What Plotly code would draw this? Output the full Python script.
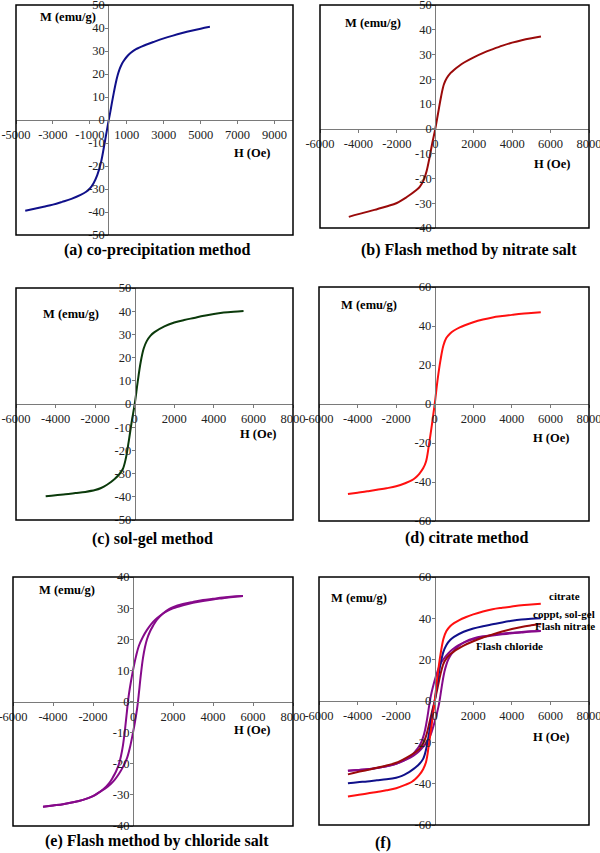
import plotly.graph_objects as go

# ---------------- data ----------------
a_H = [-4500, -4000, -3500, -3000, -2500, -2000, -1500, -1200, -1000, -800, -600, -400, -200, 0,
       100, 200, 300, 400, 500, 600, 700, 800, 1000, 1200, 1500, 2000, 2500, 3000, 3500, 4000, 4500, 5000, 5500]
a_M = [-39.5, -38.6, -37.7, -36.8, -35.6, -34.3, -32.6, -31.2, -29.8, -27.5, -24, -18.5, -10, -1,
       3.2, 7.8, 12, 16, 19.3, 21.9, 23.8, 25.3, 27.5, 29.1, 30.8, 32.6, 34.1, 35.5, 36.7, 37.8, 38.8, 39.7, 40.5]

b_H = [-4500, -4000, -3500, -3000, -2500, -2000, -1500, -1000, -800, -600, -450, -300, -150, 0,
       150, 300, 450, 600, 800, 1000, 1200, 1500, 2000, 2500, 3000, 3500, 4000, 4500, 5000, 5500]
b_M = [-35.5, -34.4, -33.4, -32.3, -31.2, -29.9, -27.6, -24.8, -23.3, -20.6, -17, -11.6, -5.5, 0,
       6.5, 13, 18, 20.5, 22.6, 24, 25.2, 26.8, 28.9, 30.7, 32.2, 33.6, 34.8, 35.8, 36.6, 37.3]

c_H = [-4500, -4000, -3500, -3000, -2500, -2000, -1700, -1400, -1200, -1000, -800, -600, -450, -300, -150, 0,
       150, 300, 450, 600, 800, 1000, 1500, 2000, 2500, 3000, 3500, 4000, 4500, 5000, 5500]
c_M = [-39.8, -39.3, -38.9, -38.4, -37.9, -37.1, -36.2, -34.8, -33.6, -32.2, -30.5, -28, -23.5, -16, -7.5, 0,
       9.5, 18, 23.8, 27, 29.5, 31, 33.5, 35.1, 36.2, 37.1, 38, 38.8, 39.4, 39.8, 40.1]

d_H = [-4500, -4000, -3500, -3000, -2500, -2000, -1500, -1200, -1000, -800, -600, -450, -300, -150, 0,
       150, 300, 450, 600, 800, 1000, 1300, 1600, 2000, 2500, 3000, 3500, 4000, 4500, 5000, 5500]
d_M = [-46.2, -45.5, -44.8, -44, -43.2, -42.2, -40.5, -39.2, -37.8, -35.8, -33, -29.5, -21, -11, 0,
       12.5, 22.5, 30, 33.8, 36.2, 37.7, 39.3, 40.5, 41.9, 43.3, 44.4, 45.1, 45.7, 46.3, 46.7, 47.1]

# chloride-salt loop: descending branch and ascending branch
e_up_H = [5500, 5000, 4500, 4000, 3500, 3000, 2500, 2000, 1700, 1400, 1100, 900, 700, 500, 300, 150, 0,
          -100, -200, -250, -300, -400, -500, -600, -700, -850, -1000, -1200, -1500, -1800, -2000,
          -2500, -3000, -3500, -4000, -4500]
e_up_M = [33.9, 33.6, 33.2, 32.8, 32.3, 31.7, 30.9, 29.9, 29, 27.8, 26.2, 24.8, 23, 20.8, 18, 14.5, 10,
          6.5, 2.5, 0, -3, -9, -14, -17.5, -20, -22.5, -24.3, -26.3, -28.3, -29.7, -30.4,
          -31.6, -32.4, -33, -33.4, -33.8]
e_dn_H = [-4500, -4000, -3500, -3000, -2500, -2000, -1700, -1400, -1100, -900, -700, -500, -300, -150, 0,
          100, 200, 250, 300, 400, 500, 600, 700, 850, 1000, 1200, 1500, 1800, 2000,
          2500, 3000, 3500, 4000, 4500, 5000, 5500]
e_dn_M = [-33.8, -33.4, -33, -32.4, -31.6, -30.4, -29.2, -28, -26.4, -25, -23.2, -21, -18.2, -14.7, -10,
          -6.5, -2.5, 0, 3, 9, 14, 17.5, 20, 22.5, 24.3, 26.3, 28.3, 29.7, 30.3,
          31.3, 32, 32.6, 33, 33.4, 33.7, 33.9]

captions = ["(a) co-precipitation method", "(b) Flash method by nitrate salt",
            "(c) sol-gel method", "(d) citrate method",
            "(e) Flash method by chloride salt", "(f)"]
f_labels = ["citrate", "coppt, sol-gel", "Flash nitrate", "Flash chloride"]

x_ranges = [[-5000, 10000], [-6000, 8000], [-6000, 8000], [-6000, 8000], [-6000, 8000], [-6000, 8000]]
y_ranges = [[-50, 50], [-40, 50], [-50, 50], [-60, 60], [-40, 40], [-60, 60]]
x_ticks = [list(range(-5000, 10000, 2000))] + [list(range(-6000, 8001, 2000))] * 5
y_ticks = [list(range(-50, 51, 10)), list(range(-40, 51, 10)), list(range(-50, 51, 10)),
           list(range(-60, 61, 20)), list(range(-40, 41, 10)), list(range(-60, 61, 20))]

BLUE = "#10108A"
DRED = "#9A0A0A"
GREEN = "#0B3A0B"
RED = "#FF1010"
PURPLE = "#860A8A"

W, H = 600, 853
# panel boxes in pixels: left, right, top, bottom
boxes = [(16, 293, 5, 235), (320, 589, 5, 228), (16, 293, 288, 520),
         (319, 589, 287, 521), (13, 293, 577, 826), (319, 589, 577, 825)]
cap_pos = [(157, 250), (469, 250), (152, 539), (467, 538), (157, 841), (383, 843)]
m_pos = [(68, 17), (373, 23), (71, 314), (369, 305), (67, 590), (359, 598)]
h_pos = [(252, 153), (552, 164), (258, 434), (551, 438), (252, 730), (551, 737)]

FONT = "Liberation Serif"
fig = go.Figure()

def axid(i):
    return "" if i == 0 else str(i + 1)

def add(i, xs, ys, color):
    fig.add_trace(go.Scatter(x=xs, y=ys, mode="lines",
                             line=dict(color=color, width=2, shape="spline", smoothing=1.0),
                             xaxis="x" + axid(i), yaxis="y" + axid(i),
                             showlegend=False, hoverinfo="skip"))

add(0, a_H, a_M, BLUE)
add(1, b_H, b_M, DRED)
add(2, c_H, c_M, GREEN)
add(3, d_H, d_M, RED)
add(4, e_up_H, e_up_M, PURPLE)
add(4, e_dn_H, e_dn_M, PURPLE)
add(5, e_up_H, e_up_M, PURPLE)
add(5, e_dn_H, e_dn_M, PURPLE)
add(5, b_H, b_M, DRED)
add(5, c_H, c_M, BLUE)
add(5, d_H, d_M, RED)

layout = dict(template="none", width=W, height=H, margin=dict(l=0, r=0, t=0, b=0, pad=0),
              paper_bgcolor="white", plot_bgcolor="white", showlegend=False)
shapes, annotations = [], []

for i, (l, r, t, b) in enumerate(boxes):
    xd = [l / W, r / W]
    yd = [1 - b / H, 1 - t / H]
    xr, yr = x_ranges[i], y_ranges[i]
    xpos = yd[0] + (0 - yr[0]) / (yr[1] - yr[0]) * (yd[1] - yd[0])
    ypos = xd[0] + (0 - xr[0]) / (xr[1] - xr[0]) * (xd[1] - xd[0])
    s = axid(i)
    layout["xaxis" + s] = dict(domain=xd, range=xr, anchor="free", position=xpos, automargin=False,
                               showgrid=False, zeroline=False, showline=True,
                               linecolor="#7a7a7a", linewidth=1,
                               ticks="outside", ticklen=3, tickcolor="#7a7a7a",
                               tickvals=x_ticks[i], ticktext=[str(v) for v in x_ticks[i]],
                               tickfont=dict(family=FONT, size=12.5, color="#222"),
                               ticklabelstandoff=0, ticklabeloverflow="allow")
    layout["yaxis" + s] = dict(domain=yd, range=yr, anchor="free", position=ypos, automargin=False,
                               showgrid=False, zeroline=False, showline=True,
                               linecolor="#7a7a7a", linewidth=1,
                               ticks="outside", ticklen=3, tickcolor="#7a7a7a",
                               tickvals=y_ticks[i], ticktext=[str(v) for v in y_ticks[i]],
                               tickfont=dict(family=FONT, size=12.5, color="#222"),
                               ticklabelstandoff=-2, ticklabeloverflow="allow")
    shapes.append(dict(type="rect", xref="x" + s + " domain", yref="y" + s + " domain",
                       x0=0, x1=1, y0=0, y1=1, line=dict(color="black", width=1.5),
                       layer="above"))
    cx, cy = cap_pos[i]
    annotations.append(dict(x=cx / W, y=1 - cy / H, xref="paper", yref="paper",
                            text="<b>" + captions[i] + "</b>", showarrow=False,
                            font=dict(family=FONT, size=16, color="black"),
                            xanchor="center", yanchor="middle"))
    mx, my = m_pos[i]
    annotations.append(dict(x=mx / W, y=1 - my / H, xref="paper", yref="paper",
                            text="<b>M (emu/g)</b>", showarrow=False,
                            font=dict(family=FONT, size=12.5, color="black"),
                            xanchor="center", yanchor="middle"))
    hx, hy = h_pos[i]
    annotations.append(dict(x=hx / W, y=1 - hy / H, xref="paper", yref="paper",
                            text="<b>H (Oe)</b>", showarrow=False,
                            font=dict(family=FONT, size=12.5, color="black"),
                            xanchor="center", yanchor="middle"))

f_lab_pos = [(564, 596), (564, 614), (565, 626), (509, 646)]
for txt, (px, py) in zip(f_labels, f_lab_pos):
    annotations.append(dict(x=px / W, y=1 - py / H, xref="paper", yref="paper",
                            text="<b>" + txt + "</b>", showarrow=False,
                            font=dict(family=FONT, size=11, color="black"),
                            xanchor="center", yanchor="middle"))

layout["shapes"] = shapes
layout["annotations"] = annotations
fig.update_layout(**layout)
fig.write_html("out.html", config={"displayModeBar": False},
               post_script="document.body.style.margin='0';document.body.style.overflow='hidden';")
